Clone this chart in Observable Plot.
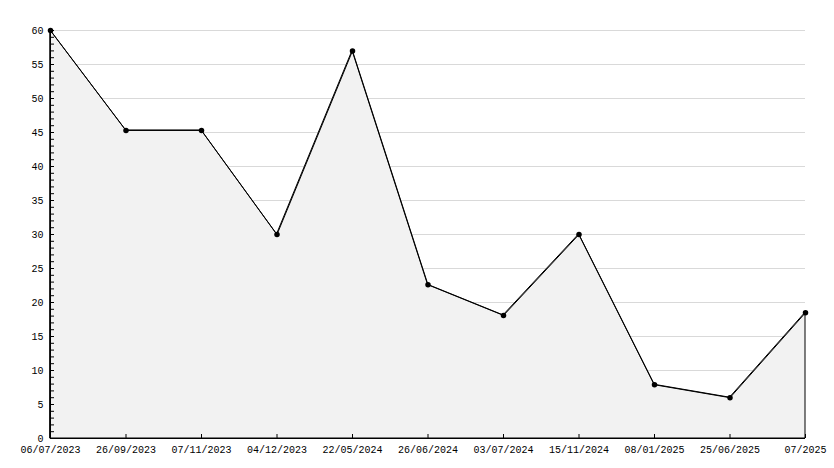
<!DOCTYPE html>
<html>
<head>
<meta charset="utf-8">
<script src="https://cdn.jsdelivr.net/npm/d3@7"></script>
<script src="https://cdn.jsdelivr.net/npm/@observablehq/plot@0.6"></script>
<style>
  html, body { margin: 0; padding: 0; background: #fff; }
</style>
</head>
<body>
<div id="chart"></div>
<script>
const dates = ["06/07/2023", "26/09/2023", "07/11/2023", "04/12/2023", "22/05/2024", "26/06/2024", "03/07/2024", "15/11/2024", "08/01/2025", "25/06/2025", "07/2025"];
const values = [60, 45.3, 45.3, 30, 57, 22.6, 18.1, 30, 7.9, 6.0, 18.5];
const yMajorTicks = [0, 5, 10, 15, 20, 25, 30, 35, 40, 45, 50, 55, 60];
const yMinorTicks = d3.range(0, 61, 1);
const gridLines = [5, 10, 15, 20, 25, 30, 35, 40, 45, 50, 55, 60];

const data = dates.map((d, i) => ({date: d, value: values[i]}));

const chart = Plot.plot({
  width: 834,
  height: 468,
  marginTop: 30,
  marginBottom: 30,
  marginLeft: 50,
  marginRight: 29,
  style: {fontFamily: "'Liberation Mono', 'DejaVu Sans Mono', monospace", fontSize: "10px", color: "#000", background: "#fff"},
  x: {type: "point", domain: dates, padding: 0, round: false, label: null},
  y: {domain: [0, 60], label: null},
  marks: [
    Plot.ruleY(gridLines, {stroke: "#d9d9d9", strokeWidth: 1}),
    Plot.areaY(data, {x: "date", y: "value", fill: "#f2f2f2", stroke: "#000", strokeWidth: 1}),
    Plot.line(data, {x: "date", y: "value", stroke: "#000", strokeWidth: 1}),
    Plot.dot(data, {x: "date", y: "value", r: 2.75, fill: "#000", stroke: "none"}),
    Plot.ruleX([dates[0]], {stroke: "#000", strokeWidth: 1}),
    Plot.ruleY([0], {stroke: "#000", strokeWidth: 1}),
    // inward minor ticks on the y axis
    Plot.ruleY(yMinorTicks, {y: d => d, x1: () => dates[0], x2: () => dates[0], insetRight: -4, stroke: "#000", strokeWidth: 1}),
    // inward ticks on the x axis
    Plot.ruleX(dates, {x: d => d, y1: () => 0, y2: () => 0, insetTop: -4, stroke: "#000", strokeWidth: 1}),
    Plot.axisY(yMajorTicks, {anchor: "left", tickSize: 0, tickPadding: 7, fill: "#000", label: null}),
    Plot.axisX(dates, {anchor: "bottom", tickSize: 0, tickPadding: 7, fill: "#000", label: null})
  ]
});
document.getElementById("chart").appendChild(chart);
</script>
</body>
</html>
